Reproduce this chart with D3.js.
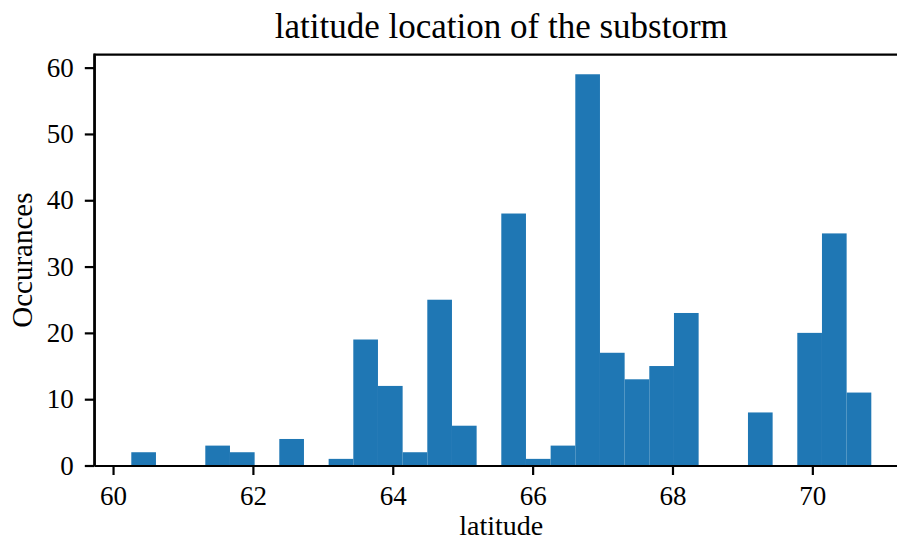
<!DOCTYPE html>
<html>
<head>
<meta charset="utf-8">
<script src="https://cdn.jsdelivr.net/npm/d3@7"></script>
<style>
  body { margin: 0; background: #fff; }
  svg { display: block; }
  .tick text { font-family: "Liberation Serif", serif; font-size: 27px; fill: #000; }
</style>
</head>
<body>
<div id="chart"></div>
<script>
// Histogram of substorm latitudes (30 bins between data min and max)
let dataMin = 60.261,
    dataMax = 70.843;
let counts = [2, 0, 0, 3, 2, 0, 4, 0, 1, 19,
              12, 2, 25, 6, 0, 38, 1, 3, 59, 17,
              13, 15, 23, 0, 0, 8, 0, 20, 35, 11];
let xTicks = [60, 62, 64, 66, 68, 70];
let yTicks = [0, 10, 20, 30, 40, 50, 60];

let nBins = counts.length;
let binW = (dataMax - dataMin) / nBins;
let bins = counts.map(function (c, i) {
    return { x0: dataMin + i * binW, x1: dataMin + (i + 1) * binW, n: c };
});

// Set dimensions (plot runs past the right edge, as in the original crop)
let width = 897, height = 543;
let plot = { left: 94.3, right: 908.3, top: 54.7, bottom: 465.5 };

// matplotlib style 5% margins
let pad = (dataMax - dataMin) * 0.05;
let x = d3.scaleLinear()
    .domain([dataMin - pad, dataMax + pad])
    .range([plot.left, plot.right]);
let y = d3.scaleLinear()
    .domain([0, d3.max(counts) * 1.05])
    .range([plot.bottom, plot.top]);

let svg = d3.select('#chart')
    .append('svg')
    .attr('width', width)
    .attr('height', height);

// bars
svg.selectAll('.bar')
    .data(bins)
    .enter()
    .append('rect')
    .attr('class', 'bar')
    .attr('x', function (d) { return x(d.x0); })
    .attr('width', function (d) { return x(d.x1) - x(d.x0); })
    .attr('y', function (d) { return y(d.n); })
    .attr('height', function (d) { return y(0) - y(d.n); })
    .attr('fill', '#1f77b4');

// axes
let tickLen = 9.5, lw = 2.2;

let gx = svg.append('g')
    .attr('transform', 'translate(0,' + plot.bottom + ')')
    .call(d3.axisBottom(x).tickValues(xTicks).tickFormat(d3.format('d'))
        .tickSizeInner(tickLen).tickSizeOuter(0).tickPadding(11));

let gy = svg.append('g')
    .attr('transform', 'translate(' + plot.left + ',0)')
    .call(d3.axisLeft(y).tickValues(yTicks).tickFormat(d3.format('d'))
        .tickSizeInner(tickLen).tickSizeOuter(0).tickPadding(11));

[gx, gy].forEach(function (g) {
    g.select('.domain').attr('stroke', '#000').attr('stroke-width', lw);
    g.selectAll('.tick line').attr('stroke', '#000').attr('stroke-width', lw);
});

// top spine
svg.append('line')
    .attr('x1', plot.left).attr('x2', plot.right)
    .attr('y1', plot.top).attr('y2', plot.top)
    .attr('stroke', '#000').attr('stroke-width', lw);

// left spine covers full height
svg.append('line')
    .attr('x1', plot.left).attr('x2', plot.left)
    .attr('y1', plot.top - lw / 2).attr('y2', plot.bottom + lw / 2)
    .attr('stroke', '#000').attr('stroke-width', lw);

let cx = (plot.left + plot.right) / 2;

// title and labels
svg.append('text')
    .attr('x', cx).attr('y', 38)
    .attr('text-anchor', 'middle')
    .style('font-family', '"Liberation Serif", serif')
    .style('font-size', '35px')
    .text('latitude location of the substorm');

svg.append('text')
    .attr('x', cx).attr('y', 535)
    .attr('text-anchor', 'middle')
    .style('font-family', '"Liberation Serif", serif')
    .style('font-size', '28px')
    .text('latitude');

svg.append('text')
    .attr('transform', 'translate(32,' + ((plot.top + plot.bottom) / 2) + ') rotate(-90)')
    .attr('text-anchor', 'middle')
    .style('font-family', '"Liberation Serif", serif')
    .style('font-size', '29px')
    .text('Occurances');
</script>
</body>
</html>
